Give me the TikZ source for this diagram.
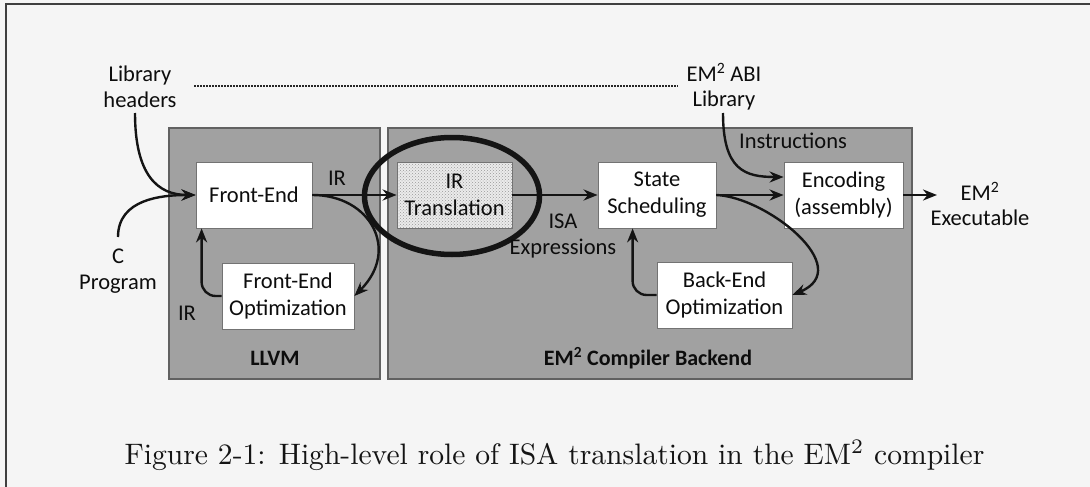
\documentclass[tikz,border=0pt]{standalone}
\usepackage{fontspec}
\newfontfamily\calib{Carlito}
\usetikzlibrary{arrows.meta,patterns,calc}
\begin{document}
\begin{tikzpicture}[x=1pt,y=-1pt,
  lbl/.style={font=\calib\fontsize{22.5}{25.5}\selectfont, text=black!95, align=center, inner sep=0pt},
  boldlbl/.style={lbl, font=\calib\bfseries\fontsize{22}{25}\selectfont},
  stage/.style={draw=black!55, line width=0.8pt, fill=white, minimum height=66pt,
    align=center, inner sep=0pt, font=\calib\fontsize{22.5}{27}\selectfont, text=black!95},
  group/.style={draw=black!62, line width=1.6pt, fill=black!37, inner sep=0pt},
  flow/.style={line width=2.4pt, draw=black!92, -{Stealth[length=14pt,width=11pt]}},
]
\useasboundingbox (0,0) rectangle (1090,487);
% page and frame
\fill[white!96!black] (0,0) rectangle (1090,487);
\draw[line width=2pt, black!75] (6,487) -- (6,4) -- (1090,4);

% compiler stages (grouping panels)
\node[group, minimum width=211pt, minimum height=251pt] (llvm) at (274.5,253.5) {};
\node[group, minimum width=524pt, minimum height=251pt] (backend) at (650,253.5) {};

% reference line between the two library inputs
\draw[line width=1.6pt, dash pattern=on 2pt off 1pt, black!85] (194,86) -- (678,86);

% processing steps
\node[stage, minimum width=116pt] (FE) at (254,195) {Front-End};
\node[stage, minimum width=132pt] (FEO) at (288,296) {Front-End\\Optimization};
\node[stage, minimum width=115pt, fill=none, preaction={fill=white!92!black},
      pattern=crosshatch dots, pattern color=black!40] (IRT) at (454.5,195) {IR\\Translation};
\node[stage, minimum width=118pt] (SS) at (657,195) {State\\Scheduling};
\node[stage, minimum width=135pt] (BEO) at (724.5,295) {Back-End\\Optimization};
\node[stage, minimum width=119pt] (ENC) at (843.5,195) {Encoding\\(assembly)};

% highlight ring around IR translation
\draw[line width=5.5pt, black!92] (452,196) ellipse [x radius=87.5, y radius=58.5];

% labels
\node[lbl] (libh) at (140,87) {Library\\headers};
\node[lbl] (cprog) at (118,271) {C\\Program};
\node[lbl] (irA) at (337,178) {IR};
\node[lbl] (irB) at (187,313) {IR};
\node[boldlbl] (llvmlbl) at (275,358) {LLVM};
\node[lbl] (isa) at (563,236) {ISA\\Expressions};
\node[lbl] (abi) at (724,87) {EM\textsuperscript{2} ABI\\Library};
\node[lbl] (instr) at (793,141) {Instructions};
\node[lbl] (exe) at (980,204) {EM\textsuperscript{2}\\Executable};
\node[boldlbl] (belbl) at (648,358) {EM\textsuperscript{2} Compiler Backend};
\node[anchor=base, inner sep=0pt, font=\fontsize{10}{12}\selectfont, text=black!92,
      scale=2.96, transform shape] (cap)
  at (554.5,464) {Figure 2-1: High-level role of ISA translation in the EM$^2$ compiler};

% connector end points
\coordinate (libfoot) at (135,113);
\coordinate (cfoot) at (118,237);
\coordinate (abifoot) at (723,113);
\coordinate (exein) at (937,195);
\coordinate (FEin) at ($(FE.south west)+(6,0)$);
\coordinate (SSin) at ($(SS.south west)+(35,0)$);
\coordinate (ENCtop) at ($(ENC.west)+(0,-18)$);

% data flow
\draw[flow] (libfoot) .. controls +(0,62) and +(-38,0) .. (FE.west);
\draw[flow] (cfoot) .. controls +(0,-38) and +(-34,0) .. (FE.west);
\draw[flow] (FE.east) -- (IRT.west);
\draw[flow] (FE.east) .. controls +(58,0) and +(46,-46) .. (FEO.east);
\draw[flow, rounded corners=14pt] (FEO.west) -| (FEin);
\draw[flow] (IRT.east) -- (SS.west);
\draw[flow] (SS.east) -- (ENC.west);
\draw[flow] (abifoot) .. controls +(0,57) and +(-39,0) .. (ENCtop);
\draw[flow] (SS.east) .. controls +(50,2) and +(64,-27) .. (BEO.east);
\draw[flow, rounded corners=14pt] (BEO.west) -| (SSin);
\draw[flow] (ENC.east) -- (exein);
\end{tikzpicture}
\end{document}
